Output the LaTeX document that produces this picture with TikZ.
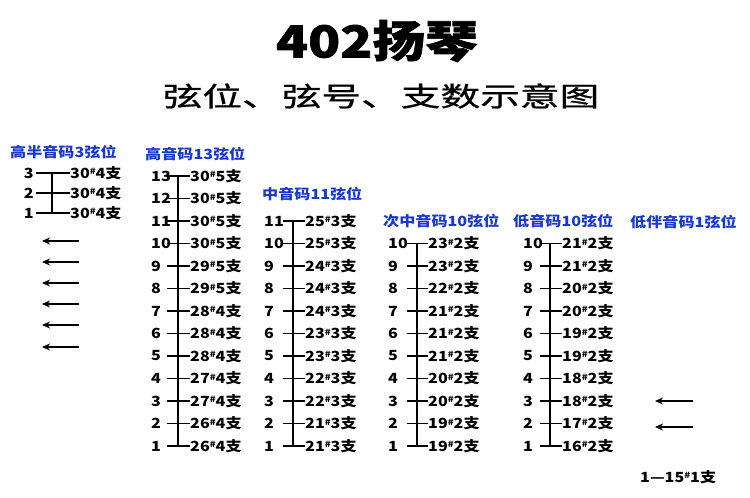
\documentclass[tikz,border=0pt]{standalone}
\usepackage{fontspec}
\usepackage{graphicx}
\usetikzlibrary{arrows.meta}
\newfontfamily\labf[FakeStretch=1.15]{Noto Sans CJK SC}
\newfontfamily\ttlf[FakeStretch=1.2, BoldFeatures={FakeBold=1.5}]{Noto Sans CJK SC}
\newfontfamily\subf[FakeStretch=1.47, FakeBold=0.8]{Noto Sans CJK SC}
\definecolor{hdblue}{RGB}{25,55,210}
\newcommand{\shp}{\raisebox{0.45ex}{\scalebox{0.6}{\#}}}
\begin{document}
\begin{tikzpicture}[x=1pt,y=-1pt,
  lab/.style={font={\labf\bfseries\fontsize{14pt}{14pt}\selectfont}, inner sep=0pt, anchor=west},
  num/.style={font={\labf\bfseries\fontsize{14pt}{14pt}\selectfont}, inner sep=0pt, anchor=west},
  hdr/.style={font={\labf\bfseries\fontsize{14pt}{14pt}\selectfont}, text=hdblue, inner sep=0pt, anchor=west},
  ln/.style={line width=1.4pt, black},
  arr/.style={line width=1.6pt, -{Stealth[length=8pt,width=7pt]}}]
\useasboundingbox[fill=white] (0,0) rectangle (750,498);
% titles
\node[font={\ttlf\bfseries\fontsize{44pt}{44pt}\selectfont}, inner sep=0pt] (title) at (377,41) {402扬琴};
\node[font={\subf\fontsize{27pt}{27pt}\selectfont}, inner sep=0pt] (subtitle) at (381,96) {弦位、弦号、支数示意图};
% headers
\node[hdr] (h1) at (10,152) {高半音码3弦位};
\node[hdr] (h2) at (145,154) {高音码13弦位};
\node[hdr] (h3) at (262,194) {中音码11弦位};
\node[hdr] (h4) at (383,221) {次中音码10弦位};
\node[hdr] (h5) at (513,221) {低音码10弦位};
\node[hdr] (h6) at (630,222) {低伴音码1弦位};
% column 1
\foreach \k/\yy in {1/213,2/193,3/173}{
  \node[num, anchor=east] (n1-\k) at (34,\yy) {\k};
  \coordinate (a1-\k) at (36,\yy);
  \coordinate (b1-\k) at (70,\yy);
  \draw[ln] (a1-\k) -- (b1-\k);
  \node[lab] (l1-\k) at (b1-\k) {30\shp4支};
}
\coordinate (v1t) at (52,173);
\coordinate (v1b) at (52,213);
\draw[ln] (v1t) -- (v1b);
\foreach \yy [count=\i] in {241,262,283,304,325,347}{
  \coordinate (ar1s-\i) at (79,\yy);
  \coordinate (ar1e-\i) at (42,\yy);
  \draw[arr] (ar1s-\i) -- (ar1e-\i);
}
% column 2
\foreach \k/\a/\b in {1/26/4,2/26/4,3/27/4,4/27/4,5/28/4,6/28/4,7/28/4,8/29/5,9/29/5,10/30/5,11/30/5,12/30/5,13/30/5}{
  \pgfmathsetmacro\yy{446-(\k-1)*22.5}
  \node[num] (n2-\k) at (151,\yy) {\k};
  \coordinate (a2-\k) at (167,\yy);
  \coordinate (b2-\k) at (190,\yy);
  \draw[ln] (a2-\k) -- (b2-\k);
  \node[lab] (l2-\k) at (b2-\k) {\a\shp\b{}支};
}
\coordinate (v2t) at (178,176);
\coordinate (v2b) at (178,446);
\draw[ln] (v2t) -- (v2b);
% column 3
\foreach \k/\a in {1/21,2/21,3/22,4/22,5/23,6/23,7/24,8/24,9/24,10/25,11/25}{
  \pgfmathsetmacro\yy{446-(\k-1)*22.5}
  \node[num] (n3-\k) at (264,\yy) {\k};
  \coordinate (a3-\k) at (283,\yy);
  \coordinate (b3-\k) at (305,\yy);
  \draw[ln] (a3-\k) -- (b3-\k);
  \node[lab] (l3-\k) at (b3-\k) {\a\shp3支};
}
\coordinate (v3t) at (293,221);
\coordinate (v3b) at (293,446);
\draw[ln] (v3t) -- (v3b);
% column 4
\foreach \k/\a in {1/19,2/19,3/20,4/20,5/21,6/21,7/21,8/22,9/23,10/23}{
  \pgfmathsetmacro\yy{446-(\k-1)*22.5}
  \node[num] (n4-\k) at (388,\yy) {\k};
  \coordinate (a4-\k) at (407,\yy);
  \coordinate (b4-\k) at (428,\yy);
  \draw[ln] (a4-\k) -- (b4-\k);
  \node[lab] (l4-\k) at (b4-\k) {\a\shp2支};
}
\coordinate (v4t) at (417,243.5);
\coordinate (v4b) at (417,446);
\draw[ln] (v4t) -- (v4b);
% column 5
\foreach \k/\a in {1/16,2/17,3/18,4/18,5/19,6/19,7/20,8/20,9/21,10/21}{
  \pgfmathsetmacro\yy{446-(\k-1)*22.5}
  \node[num] (n5-\k) at (523,\yy) {\k};
  \coordinate (a5-\k) at (540,\yy);
  \coordinate (b5-\k) at (562,\yy);
  \draw[ln] (a5-\k) -- (b5-\k);
  \node[lab] (l5-\k) at (b5-\k) {\a\shp2支};
}
\coordinate (v5t) at (550,243.5);
\coordinate (v5b) at (550,446);
\draw[ln] (v5t) -- (v5b);
% column 6
\coordinate (ar6s-1) at (693,401);
\coordinate (ar6e-1) at (655,401);
\coordinate (ar6s-2) at (693,427);
\coordinate (ar6e-2) at (655,427);
\draw[arr] (ar6s-1) -- (ar6e-1);
\draw[arr] (ar6s-2) -- (ar6e-2);
\node[lab] (l6) at (640,477) {1—15\shp1支};
\end{tikzpicture}
\end{document}
